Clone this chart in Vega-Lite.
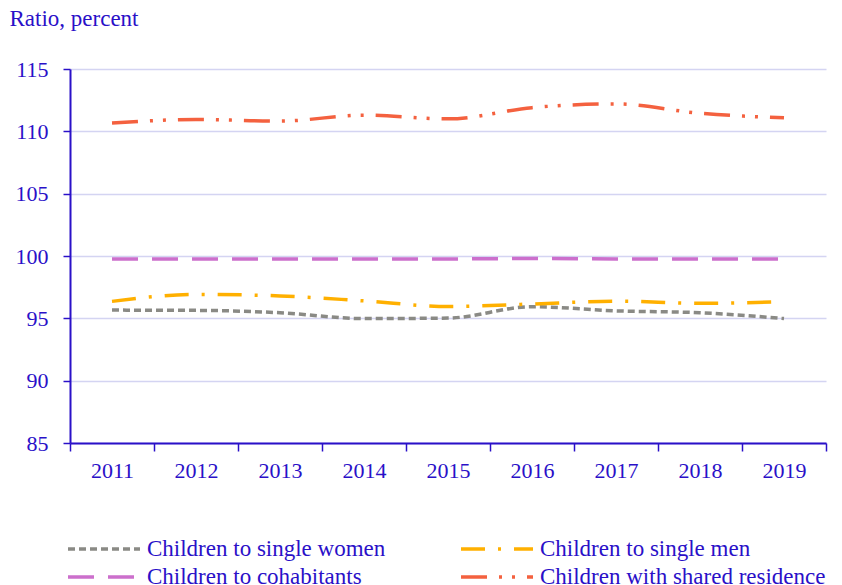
{
  "$schema": "https://vega.github.io/schema/vega-lite/v6.json",
  "autosize": "none",
  "width": 756,
  "height": 374,
  "padding": {"left": 70, "top": 69, "right": 16, "bottom": 142},
  "background": "white",
  "config": {
    "view": {"stroke": null},
    "font": "Liberation Serif"
  },
  "data": {
    "values": [
      {"year": "2011", "series": "Children to single women", "value": 95.66},
      {"year": "2012", "series": "Children to single women", "value": 95.64},
      {"year": "2013", "series": "Children to single women", "value": 95.45},
      {"year": "2014", "series": "Children to single women", "value": 94.98},
      {"year": "2015", "series": "Children to single women", "value": 95.02},
      {"year": "2016", "series": "Children to single women", "value": 95.93},
      {"year": "2017", "series": "Children to single women", "value": 95.6},
      {"year": "2018", "series": "Children to single women", "value": 95.45},
      {"year": "2019", "series": "Children to single women", "value": 94.98},
      {"year": "2011", "series": "Children to single men", "value": 96.36},
      {"year": "2012", "series": "Children to single men", "value": 96.92},
      {"year": "2013", "series": "Children to single men", "value": 96.8},
      {"year": "2014", "series": "Children to single men", "value": 96.4},
      {"year": "2015", "series": "Children to single men", "value": 95.95},
      {"year": "2016", "series": "Children to single men", "value": 96.15},
      {"year": "2017", "series": "Children to single men", "value": 96.38},
      {"year": "2018", "series": "Children to single men", "value": 96.2},
      {"year": "2019", "series": "Children to single men", "value": 96.33},
      {"year": "2011", "series": "Children to cohabitants", "value": 99.75},
      {"year": "2012", "series": "Children to cohabitants", "value": 99.75},
      {"year": "2013", "series": "Children to cohabitants", "value": 99.75},
      {"year": "2014", "series": "Children to cohabitants", "value": 99.75},
      {"year": "2015", "series": "Children to cohabitants", "value": 99.76},
      {"year": "2016", "series": "Children to cohabitants", "value": 99.8},
      {"year": "2017", "series": "Children to cohabitants", "value": 99.76},
      {"year": "2018", "series": "Children to cohabitants", "value": 99.75},
      {"year": "2019", "series": "Children to cohabitants", "value": 99.75},
      {"year": "2011", "series": "Children with shared residence", "value": 110.66},
      {"year": "2012", "series": "Children with shared residence", "value": 110.95},
      {"year": "2013", "series": "Children with shared residence", "value": 110.82},
      {"year": "2014", "series": "Children with shared residence", "value": 111.3},
      {"year": "2015", "series": "Children with shared residence", "value": 111.0},
      {"year": "2016", "series": "Children with shared residence", "value": 111.9},
      {"year": "2017", "series": "Children with shared residence", "value": 112.2},
      {"year": "2018", "series": "Children with shared residence", "value": 111.45},
      {"year": "2019", "series": "Children with shared residence", "value": 111.08}
    ]
  },
  "mark": {"type": "line", "interpolate": "monotone", "strokeWidth": 3.5, "strokeCap": "butt"},
  "encoding": {
    "x": {
      "field": "year",
      "type": "ordinal",
      "bandPosition": 0.5,
      "scale": {"type": "band", "paddingInner": 0, "paddingOuter": 0},
      "axis": {
        "title": null,
        "labelAngle": 0,
        "tickBand": "extent",
        "domainColor": "#2a10c8",
        "domainWidth": 2,
        "tickColor": "#2a10c8",
        "tickWidth": 1.5,
        "tickSize": 8,
        "labelPadding": 9,
        "labelFontSize": 22,
        "labelColor": "#2a10c8",
        "labelFont": "Liberation Serif"
      }
    },
    "y": {
      "field": "value",
      "type": "quantitative",
      "scale": {"domain": [85, 115], "nice": false, "zero": false},
      "axis": {
        "title": "Ratio, percent",
        "titleAngle": 0,
        "titleAlign": "left",
        "titleBaseline": "middle",
        "titleX": -61,
        "titleY": -51,
        "titleFontSize": 23,
        "titleFontWeight": "normal",
        "titleColor": "#2a10c8",
        "titleFont": "Liberation Serif",
        "values": [85, 90, 95, 100, 105, 110, 115],
        "grid": true,
        "gridColor": "#d4d4f2",
        "gridWidth": 1.5,
        "domainColor": "#2a10c8",
        "domainWidth": 2,
        "tickColor": "#2a10c8",
        "tickWidth": 1.5,
        "tickSize": 7,
        "labelPadding": 15,
        "labelFontSize": 22,
        "labelColor": "#2a10c8",
        "labelFont": "Liberation Serif"
      }
    },
    "color": {
      "field": "series",
      "type": "nominal",
      "scale": {
        "domain": ["Children to single women", "Children to single men", "Children to cohabitants", "Children with shared residence"],
        "range": ["#8a8a85", "#ffb000", "#cc6fcc", "#f4613f"]
      },
      "legend": {
        "title": null,
        "orient": "none",
        "direction": "horizontal",
        "legendX": 20,
        "legendY": 466,
        "columns": 2,
        "columnPadding": 68,
        "rowPadding": 2,
        "symbolType": "M-3,0H3",
        "symbolSize": 576,
        "symbolStrokeWidth": 3.5,
        "symbolFillColor": "transparent",
        "labelFontSize": 23,
        "labelColor": "#2a10c8",
        "labelFont": "Liberation Serif",
        "labelOffset": 29,
        "labelLimit": 400
      }
    },
    "strokeDash": {
      "field": "series",
      "type": "nominal",
      "scale": {
        "domain": ["Children to single women", "Children to single men", "Children to cohabitants", "Children with shared residence"],
        "range": [[7, 4], [24, 13, 3, 13], [26, 14], [26, 12, 3, 10, 3, 12]]
      },
      "legend": null
    }
  }
}
